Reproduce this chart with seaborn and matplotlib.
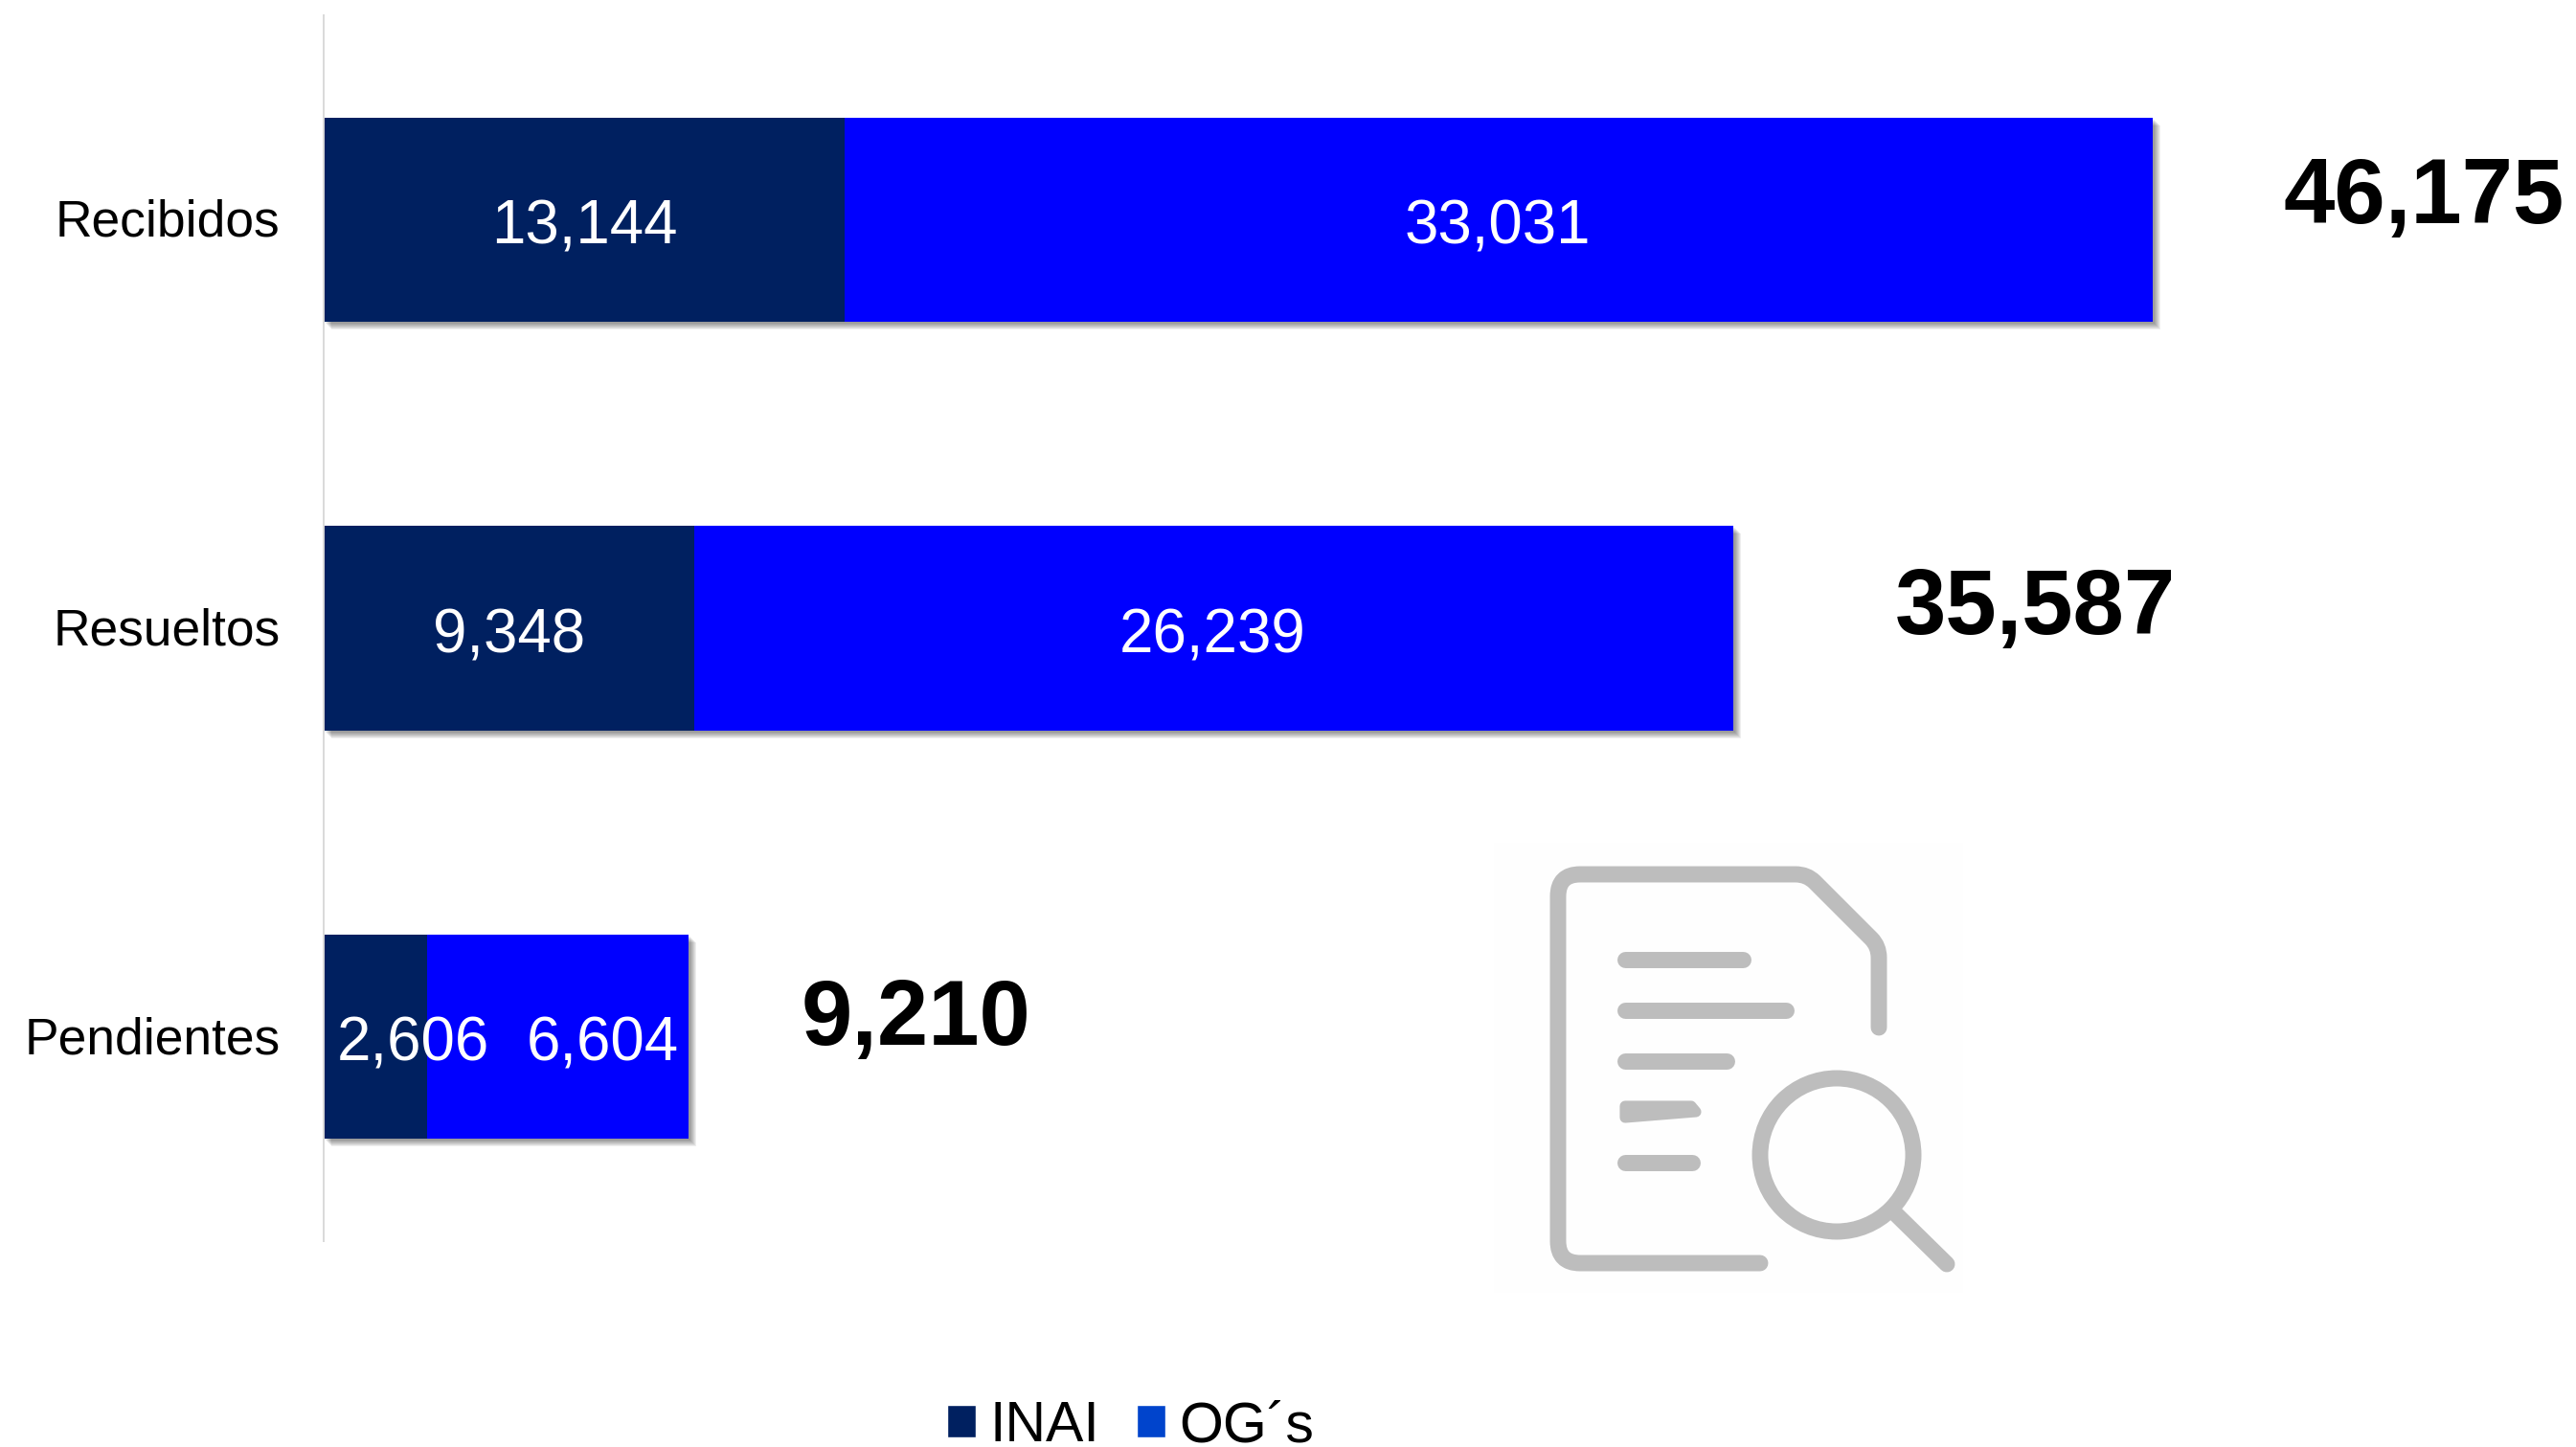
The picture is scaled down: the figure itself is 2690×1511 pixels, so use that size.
# barras apiladas de recursos: INAI + OG's, con el total a la derecha
import matplotlib
matplotlib.use("Agg")
import matplotlib.pyplot as plt
import matplotlib.patheffects as pe
from matplotlib.patches import Patch, Rectangle, Circle, Polygon, PathPatch
from matplotlib.path import Path
from matplotlib.transforms import ScaledTranslation
import seaborn as sns

# datos
categorias = ["Recibidos", "Resueltos", "Pendientes"]
inai = [13144, 9348, 2606]
ogs = [33031, 26239, 6604]
totales = [46175, 35587, 9210]
series_leyenda = ["INAI", "OG´s"]

COLOR_INAI = "#002060"
COLOR_OGS = "#0000FF"
COLOR_OGS_LEYENDA = "#0044CC"
COLOR_ICONO = "#BDBDBD"
ANCHO, ALTO = 2690, 1511

sns.set_style("white")
plt.rcParams["font.family"] = ["Liberation Sans", "DejaVu Sans"]

fig = plt.figure(figsize=(ANCHO / 100, ALTO / 100), dpi=100)
ax = fig.add_axes([338 / ANCHO, (ALTO - 1296) / ALTO, (ANCHO - 338) / ANCHO, 1280 / ALTO])

# se dibuja el total y encima el tramo INAI, asi queda apilado
sns.barplot(x=totales, y=categorias, color=COLOR_OGS, saturation=1, width=0.5, linewidth=0, ax=ax)
barras_total = list(ax.patches)
sns.barplot(x=inai, y=categorias, color=COLOR_INAI, saturation=1, width=0.5, linewidth=0, ax=ax)

# sombra difuminada abajo a la derecha
sombra = [pe.SimplePatchShadow(offset=(k * 0.72, -k * 0.72), shadow_rgbFace="black", alpha=0.065)
          for k in (8, 7, 6, 5, 4, 3, 2)]
for barra in barras_total:
    barra.set_path_effects(sombra + [pe.Normal()])

ax.set_xlim(0, 56850)
ax.set_ylim(2.5, -0.5)
ax.set_xlabel("")
ax.set_ylabel("")
ax.set_xticks([])
ax.tick_params(axis="y", length=0, pad=32, labelsize=38.4, labelcolor="black")
for etiqueta in ax.get_yticklabels():
    etiqueta.set_transform(etiqueta.get_transform() + ScaledTranslation(-0.01, 0.02, fig.dpi_scale_trans))
for lado in ["top", "right", "bottom"]:
    ax.spines[lado].set_visible(False)
ax.spines["left"].set_color("#D9D9D9")
ax.spines["left"].set_linewidth(1.4)

# etiquetas dentro de las barras (en Pendientes estan corridas a mano)
desplaza_inai = [0, 0, 950]
desplaza_ogs = [0, 0, 1160]
for i, (a, b) in enumerate(zip(inai, ogs)):
    ax.text(a / 2 + desplaza_inai[i], i + 0.004, f"{a:,}", color="white", fontsize=45.8,
            ha="center", va="center_baseline", zorder=10)
    ax.text(a + b / 2 + desplaza_ogs[i] - 30, i + 0.004, f"{b:,}", color="white", fontsize=45.8,
            ha="center", va="center_baseline", zorder=10)

# capa en pixeles para los totales, el icono y la leyenda
capa = fig.add_axes([0, 0, 1, 1], facecolor="none")
capa.set_xlim(0, ANCHO)
capa.set_ylim(ALTO, 0)
capa.axis("off")

x_totales = [2531, 2125, 957]
y_totales = [198, 627, 1056]
for x, y, t in zip(x_totales, y_totales, totales):
    capa.text(x, y, f"{t:,}", fontsize=69, fontweight="bold", color="black",
              ha="center", va="center_baseline")

# icono de documento con lupa
capa.add_patch(Rectangle((1560, 880), 490, 470, facecolor="#FEFEFE", edgecolor="none"))
grosor = 12.2
contorno = Path(
    [(1838, 1319), (1650, 1319), (1627, 1319), (1627, 1296), (1627, 936), (1627, 913), (1650, 913),
     (1875, 913), (1887, 913), (1895, 921), (1954, 980), (1962, 988), (1962, 1000), (1962, 1073)],
    [Path.MOVETO, Path.LINETO, Path.CURVE3, Path.CURVE3, Path.LINETO, Path.CURVE3, Path.CURVE3,
     Path.LINETO, Path.CURVE3, Path.CURVE3, Path.LINETO, Path.CURVE3, Path.CURVE3, Path.LINETO])
capa.add_patch(PathPatch(contorno, facecolor="none", edgecolor=COLOR_ICONO, lw=grosor,
                         capstyle="round", joinstyle="round"))
for y, x_fin in [(1002, 1820), (1055, 1865), (1108, 1803), (1214, 1767)]:
    capa.plot([1697, x_fin], [y, y], color=COLOR_ICONO, lw=grosor, solid_capstyle="round")
capa.add_patch(Polygon([(1697, 1155), (1766, 1155), (1771, 1161), (1697, 1167)],
                       facecolor=COLOR_ICONO, edgecolor=COLOR_ICONO, lw=8, joinstyle="round"))
capa.add_patch(Circle((1918, 1206), 80, facecolor="none", edgecolor=COLOR_ICONO, lw=grosor))
capa.plot([1980, 2033], [1268, 1320], color=COLOR_ICONO, lw=grosor, solid_capstyle="round")

# leyenda
manijas = [Patch(facecolor=COLOR_INAI, label=series_leyenda[0]),
           Patch(facecolor=COLOR_OGS_LEYENDA, label=series_leyenda[1])]
fig.legend(handles=manijas, ncol=2, loc="lower left", bbox_to_anchor=(983 / ANCHO, -0.008),
           frameon=False, fontsize=42.5, handlelength=0.508, handleheight=0.508,
           handletextpad=0.24, columnspacing=0.66, borderaxespad=0, borderpad=0.1,
           labelcolor="black")

fig.savefig("out.png", dpi=100, facecolor="white")
